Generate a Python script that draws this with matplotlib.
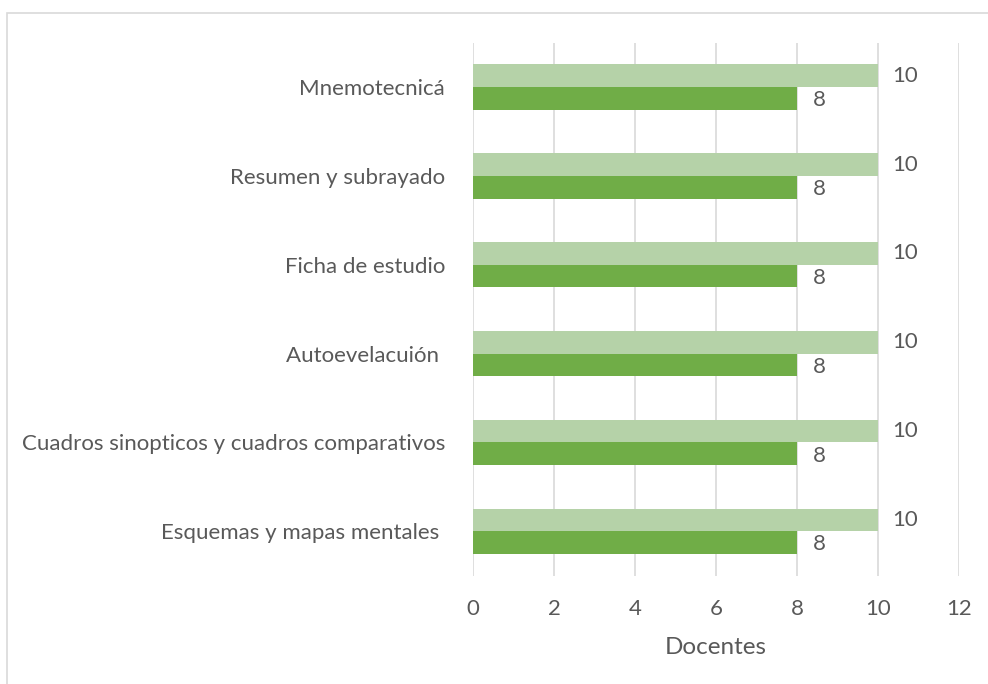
import numpy as np
import matplotlib.pyplot as plt
from matplotlib.patches import Rectangle

# Data
categorias = [
    "Mnemotecnicá",
    "Resumen y subrayado",
    "Ficha de estudio",
    "Autoevelacuión ",
    "Cuadros sinopticos y cuadros comparativos",
    "Esquemas y mapas mentales ",
]
serie_clara = [10, 10, 10, 10, 10, 10]
serie_oscura = [8, 8, 8, 8, 8, 8]
ticks_x = [0, 2, 4, 6, 8, 10, 12]

plt.rcParams["font.family"] = ["Lato", "DejaVu Sans"]

fig = plt.figure(figsize=(9.88, 6.84), dpi=100)
ax = fig.add_axes([0.4787, 0.1585, 0.4920, 0.7792])

# outer chart border
fig.patches.append(Rectangle((7 / 988, -0.05), 1.1, 1 - 13 / 684 + 0.05,
                             transform=fig.transFigure, fill=False,
                             edgecolor="#D9D9D9", linewidth=1.2))

y = np.arange(len(categorias))
h = 0.255
light = "#B5D2A8"
dark = "#70AD47"
txt = "#595959"
fs = 16

ax.barh(y - h / 2, serie_clara, height=h, color=light, zorder=2)
ax.barh(y + h / 2, serie_oscura, height=h, color=dark, zorder=2)

for yi, v in zip(y, serie_clara):
    ax.annotate(str(v), (v, yi - h / 2), xytext=(14, 0), textcoords="offset pixels",
                va="center", ha="left", fontsize=fs, color=txt)
for yi, v in zip(y, serie_oscura):
    ax.annotate(str(v), (v, yi + h / 2), xytext=(16, -2), textcoords="offset pixels",
                va="center", ha="left", fontsize=fs, color=txt)

ax.set_xlim(0, 12)
ax.set_ylim(len(categorias) - 0.5, -0.5)
ax.set_xticks(ticks_x)
ax.set_yticks(y)
ax.set_yticklabels(categorias)
ax.tick_params(axis="both", length=0, labelsize=fs, colors=txt)
ax.tick_params(axis="y", pad=20)
ax.tick_params(axis="x", pad=17)
ax.grid(axis="x", color="#D9D9D9", linewidth=1.2, zorder=0)
ax.set_axisbelow(True)
for s in ax.spines.values():
    s.set_visible(False)

ax.set_xlabel("Docentes", fontsize=17.5, color=txt, labelpad=13)

plt.savefig("out.png", dpi=100)
